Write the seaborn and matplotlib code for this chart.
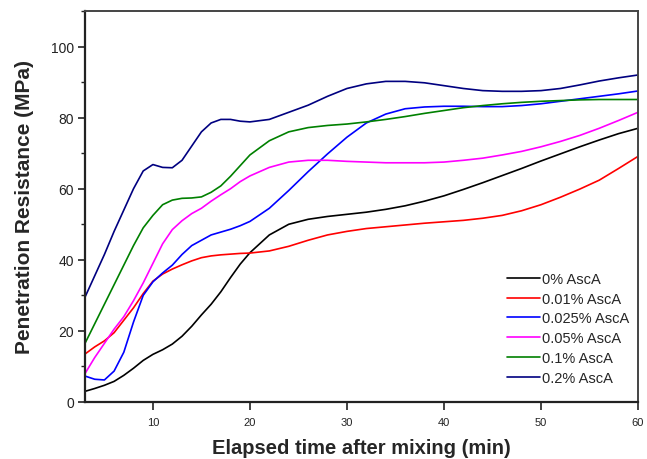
import matplotlib
matplotlib.use("Agg")
import matplotlib.pyplot as plt
from matplotlib.ticker import MultipleLocator
import seaborn as sns
import pandas as pd

time_min = [3, 4, 5, 6, 7, 8, 9, 10, 11, 12, 13, 14, 15, 16, 17, 18, 19, 20,
            22, 24, 26, 28, 30, 32, 34, 36, 38, 40, 42, 44, 46, 48, 50, 52, 54, 56, 58, 60]

asca_0 = [3, 3.8, 4.7, 5.8, 7.5, 9.5, 11.7, 13.4, 14.7, 16.3, 18.5, 21.3, 24.5, 27.5, 31, 35, 38.8, 42,
          47, 50, 51.4, 52.2, 52.8, 53.4, 54.2, 55.2, 56.5, 58, 59.8, 61.7, 63.7, 65.7, 67.8, 69.8, 71.8, 73.7, 75.5, 77]
asca_001 = [13.5, 15.5, 17.2, 19.5, 23, 26.5, 30.5, 34, 36, 37.4, 38.6, 39.7, 40.6, 41.1, 41.4, 41.6, 41.8, 41.9,
            42.5, 43.8, 45.5, 47, 48, 48.8, 49.3, 49.8, 50.3, 50.7, 51.1, 51.7, 52.5, 53.8, 55.5, 57.6, 59.9, 62.4, 65.7, 69.1]
asca_0025 = [7.3, 6.4, 6.2, 8.7, 14, 22.5, 30, 33.8, 36.3, 38.5, 41.5, 44, 45.5, 47, 47.8, 48.6, 49.6, 50.8,
             54.5, 59.5, 64.8, 69.8, 74.5, 78.5, 81, 82.5, 83, 83.2, 83.2, 83.1, 83.1, 83.4, 83.9, 84.6, 85.3, 86, 86.7, 87.5]
asca_005 = [8, 12.5, 16.5, 20.5, 24, 28.5, 33.5, 39, 44.5, 48.5, 51, 53, 54.5, 56.5, 58.3, 60, 62, 63.6,
            66, 67.5, 68, 68, 67.7, 67.5, 67.3, 67.3, 67.3, 67.5, 68, 68.6, 69.5, 70.5, 71.8, 73.3, 75, 77, 79.2, 81.5]
asca_01 = [16.5, 22, 27.5, 33, 38.5, 44, 49, 52.5, 55.5, 56.8, 57.3, 57.4, 57.7, 59, 60.8, 63.5, 66.5, 69.5,
           73.5, 76, 77.2, 77.8, 78.2, 78.8, 79.5, 80.3, 81.2, 82, 82.8, 83.4, 83.9, 84.3, 84.6, 84.8, 85, 85.1, 85.1, 85.1]
asca_02 = [29.5, 35.5, 41.5, 48, 54, 60, 65, 66.8, 66, 65.9, 68, 72, 76, 78.5, 79.5, 79.5, 79, 78.8,
           79.5, 81.5, 83.5, 86, 88.2, 89.5, 90.2, 90.2, 89.8, 89, 88.2, 87.6, 87.4, 87.4, 87.6, 88.2, 89.2, 90.3, 91.2, 92]

labels = ["0% AscA", "0.01% AscA", "0.025% AscA", "0.05% AscA", "0.1% AscA", "0.2% AscA"]
series = [asca_0, asca_001, asca_0025, asca_005, asca_01, asca_02]
colors = ["#000000", "#ff0000", "#0000ff", "#ff00ff", "#008000", "#000080"]

rows = []
for lab, vals in zip(labels, series):
    for t, v in zip(time_min, vals):
        rows.append({"time": t, "value": v, "group": lab})
df = pd.DataFrame(rows)

sns.set_style("ticks")
plt.rcParams["font.family"] = ["Liberation Sans", "DejaVu Sans"]

fig = plt.figure(figsize=(6.47, 4.60), dpi=100)
ax = fig.add_axes([85 / 647, 1 - 403 / 460, (638 - 85) / 647, (403 - 12) / 460])

sns.lineplot(data=df, x="time", y="value", hue="group", hue_order=labels,
             palette=colors, sort=False, estimator=None, linewidth=1.2, ax=ax, legend=False)

ax.set_xlim(3, 60)
ax.set_ylim(0, 110)
ax.xaxis.set_major_locator(MultipleLocator(10))
ax.yaxis.set_major_locator(MultipleLocator(20))
ax.yaxis.set_minor_locator(MultipleLocator(10))

for side in ["left", "bottom"]:
    ax.spines[side].set_linewidth(1.6)
    ax.spines[side].set_color("#222222")
for side in ["top", "right"]:
    ax.spines[side].set_visible(True)
    ax.spines[side].set_linewidth(1.4)
    ax.spines[side].set_color("#444444")

ax.tick_params(axis="x", which="major", direction="out", length=6, width=1.2,
               labelsize=8, colors="#222222", pad=5)
ax.tick_params(axis="y", which="major", direction="out", length=5, width=1.2,
               labelsize=10, colors="#222222", pad=3)
ax.tick_params(axis="y", which="minor", direction="out", length=3, width=1.0, colors="#222222")

ax.set_xlabel("Elapsed time after mixing (min)", fontsize=14.5, fontweight="bold", labelpad=8)
ax.set_ylabel("Penetration Resistance (MPa)", fontsize=15, fontweight="bold", labelpad=12)

handles = ax.get_lines()[:6]
leg = ax.legend(handles, labels, loc="upper left", bbox_to_anchor=(0.764, 0.333),
                frameon=False, fontsize=10.5, handlelength=2.2, handletextpad=0.2,
                labelspacing=0.4, borderaxespad=0, borderpad=0)

fig.savefig("out.png", dpi=100)
